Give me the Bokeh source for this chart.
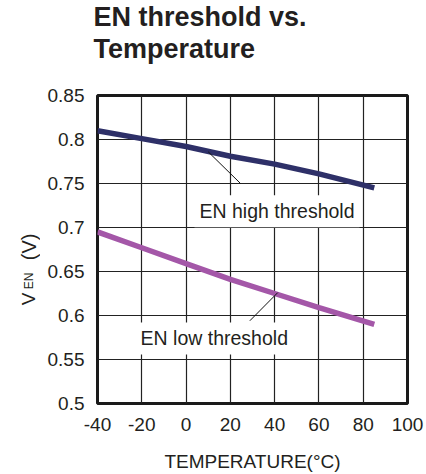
from bokeh.plotting import figure
from bokeh.models import Label, FixedTicker
from bokeh.layouts import column, row
from bokeh.embed import file_html
from bokeh.resources import INLINE

# ---- data ----
temps = [-40, -20, 0, 20, 40, 60, 85]
en_high = [0.810, 0.801, 0.792, 0.781, 0.772, 0.761, 0.745]
en_low = [0.695, 0.677, 0.659, 0.641, 0.625, 0.609, 0.590]

x_ticks = [-40, -20, 0, 20, 40, 60, 80, 100]
x_tick_labels = ["-40", "-20", "0", "20", "40", "60", "80", "100"]
y_ticks = [0.5, 0.55, 0.6, 0.65, 0.7, 0.75, 0.8, 0.85]
y_tick_labels = ["0.5", "0.55", "0.6", "0.65", "0.7", "0.75", "0.8", "0.85"]

title_lines = ["EN threshold vs.", "Temperature"]
x_title = "TEMPERATURE(°C)"
y_title_parts = ["V", "EN", "(V)"]
high_label = "EN high threshold"
low_label = "EN low threshold"

high_leader_x = [10.0, 24.6]
high_leader_y = [0.786, 0.750]
low_leader_x = [41.4, 28.8]
low_leader_y = [0.626, 0.594]

FONT = "Liberation Sans"
TXT = "#231f20"


def blank(w, h):
    f = figure(width=w, height=h, x_range=(0, w), y_range=(0, h), title=None,
               x_axis_type=None, y_axis_type=None, output_backend="svg",
               toolbar_location=None, min_border=0)
    f.outline_line_color = None
    f.grid.visible = False
    f.background_fill_color = "white"
    f.border_fill_color = "white"
    return f


# ---- title strip ----
top = blank(426, 70)
top.add_layout(Label(x=93, y=54, text=title_lines[0], text_font=FONT, text_font_style="bold",
                     text_font_size="27px", text_color=TXT, text_baseline="alphabetic"))
top.add_layout(Label(x=93, y=21.4, text=title_lines[1], text_font=FONT, text_font_style="bold",
                     text_font_size="27px", text_color=TXT, text_baseline="alphabetic"))

# ---- y-axis title strip ----
side = blank(40, 404)
side.add_layout(Label(x=28, y=129, text=y_title_parts[0], text_font=FONT, angle=90, angle_units="deg",
                      text_font_size="19px", text_color=TXT, text_baseline="alphabetic"))
side.add_layout(Label(x=28, y=150, text=y_title_parts[1], text_font=FONT, angle=90, angle_units="deg",
                      text_font_size="12px", text_color=TXT, text_baseline="alphabetic"))
side.add_layout(Label(x=28, y=188, text=y_title_parts[2], text_font=FONT, angle=90, angle_units="deg",
                      text_font_size="20px", text_color=TXT, text_baseline="alphabetic"))

# ---- main chart ----
p = figure(width=386, height=404, x_range=(-40, 100), y_range=(0.5, 0.85),
           output_backend="svg", toolbar_location=None, title=None,
           min_border_left=57, min_border_right=19,
           min_border_top=25, min_border_bottom=70)
p.background_fill_color = "white"
p.border_fill_color = "white"
p.outline_line_color = "#1a1a1a"
p.outline_line_width = 3

p.xgrid.ticker = FixedTicker(ticks=x_ticks)
p.ygrid.ticker = FixedTicker(ticks=y_ticks)
for g in (p.xgrid, p.ygrid):
    g.grid_line_color = "#222222"
    g.grid_line_width = 1.2
    g.grid_line_alpha = 1.0

p.xaxis.ticker = FixedTicker(ticks=x_ticks)
p.yaxis.ticker = FixedTicker(ticks=y_ticks)
p.xaxis.major_label_overrides = {t: s for t, s in zip(x_ticks, x_tick_labels)}
p.yaxis.major_label_overrides = {t: s for t, s in zip(y_ticks, y_tick_labels)}
for ax in (p.xaxis, p.yaxis):
    ax.axis_line_color = None
    ax.major_tick_line_color = None
    ax.minor_tick_line_color = None
    ax.major_label_text_font = FONT
    ax.major_label_text_font_size = "19px"
    ax.major_label_text_color = TXT
p.xaxis.major_label_standoff = 8
p.yaxis.major_label_standoff = 7
p.xaxis.axis_label = x_title
p.xaxis.axis_label_text_font = FONT
p.xaxis.axis_label_text_font_size = "19px"
p.xaxis.axis_label_text_font_style = "normal"
p.xaxis.axis_label_text_color = TXT
p.xaxis.axis_label_standoff = 17

p.line(temps, en_high, line_color="#2e3068", line_width=5.5)
p.line(temps, en_low, line_color="#a457a8", line_width=5.5)
p.line(high_leader_x, high_leader_y, line_color="#111111", line_width=1)
p.line(low_leader_x, low_leader_y, line_color="#111111", line_width=1)

p.add_layout(Label(x=3.8, y=0.7186, text=high_label, text_font=FONT,
                   text_font_size="19.5px", text_color=TXT,
                   text_baseline="alphabetic", text_align="left",
                   background_fill_color="white", padding=5))
p.add_layout(Label(x=-22.8, y=0.5739, text=low_label, text_font=FONT,
                   text_font_size="19.5px", text_color=TXT,
                   text_baseline="alphabetic", text_align="left",
                   background_fill_color="white", padding=5))

layout = column(top, row(side, p))
open("out.html", "w").write(file_html(layout, INLINE))
